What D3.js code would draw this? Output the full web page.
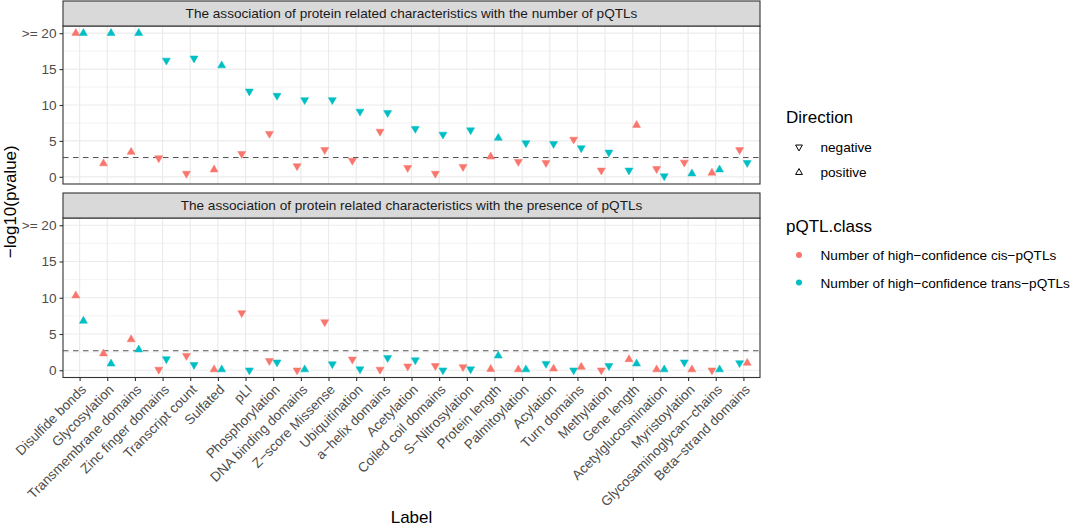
<!DOCTYPE html>
<html>
<head>
<meta charset="utf-8">
<script src="https://cdn.jsdelivr.net/npm/d3@7"></script>
<style>
  body { margin: 0; background: #fff; }
  text { font-family: "Liberation Sans", Arial, Helvetica, sans-serif; }
</style>
</head>
<body>
<svg id="chart" width="1080" height="528"></svg>
<script>
// categories on the x axis (R draws the hyphens as minus signs)
var labels = ["Disulfide bonds", "Glycosylation", "Transmembrane domains", "Zinc finger domains",
  "Transcript count", "Sulfated", "pLI", "Phosphorylation", "DNA binding domains", "Z−score Missense",
  "Ubiquitination", "a−helix domains", "Acetylation", "Coiled coil domains", "S−Nitrosylation",
  "Protein length", "Palmitoylation", "Acylation", "Turn domains", "Methylation", "Gene length",
  "Acetylglucosmination", "Myristoylation", "Glycosaminoglycan−chains", "Beta−strand domains"];

var N = "negative", P = "positive";

// panel 1: number of pQTLs
var cisNumber = [20, 1.85, 3.45, 2.6, 0.45, 1.0, 3.2, 6.0, 1.5, 3.75, 2.25, 6.3, 1.25, 0.45, 1.4,
  2.8, 2.1, 1.95, 5.2, 0.9, 7.2, 1.1, 2.0, 0.55, 3.75];
var cisNumberDir = [P, P, P, N, N, P, N, N, N, N, N, N, N, N, N, P, N, N, N, N, P, N, N, P, N];
var transNumber = [20, 20, 20, 16.2, 16.5, 15.5, 11.9, 11.3, 10.7, 10.7, 9.1, 8.9, 6.7, 5.9, 6.5,
  5.4, 4.7, 4.6, 4.0, 3.4, 0.9, 0.1, 0.45, 1.0, 1.95];
var transNumberDir = [P, P, P, N, N, P, N, N, N, N, N, N, N, N, N, P, N, N, N, N, N, N, P, P, N];

// panel 2: presence of pQTLs
var cisPresence = [10.3, 2.3, 4.25, 0.1, 2.0, 0.1, 7.9, 1.3, 0.0, 6.65, 1.5, 0.1, 0.55, 0.6, 0.45,
  0.15, 0.1, 0.2, 0.45, 0.0, 1.5, 0.1, 0.1, 0.0, 1.0];
var cisPresenceDir = [P, P, P, N, N, P, N, N, N, N, N, N, N, N, N, P, P, P, P, N, P, P, P, N, P];
var transPresence = [6.8, 0.9, 2.85, 1.55, 0.75, 0.1, 0.0, 1.1, 0.1, 0.85, 0.15, 1.7, 1.4, 0.0, 0.15,
  2.0, 0.1, 0.9, 0.0, 0.6, 0.9, 0.1, 1.1, 0.1, 1.0];
var transPresenceDir = [P, P, P, N, N, P, N, N, P, N, N, N, N, N, N, P, P, N, N, N, P, P, N, P, N];

var panelTitles = ["The association of protein related characteristics with the number of pQTLs",
  "The association of protein related characteristics with the presence of pQTLs"];
var classes = ["Number of high−confidence cis−pQTLs", "Number of high−confidence trans−pQTLs"];
var directions = [N, P];
var yTicks = [0, 5, 10, 15, 20];
var yTickLabels = ["0", "5", "10", "15", ">= 20"];
var yMinor = [2.5, 7.5, 12.5, 17.5];
var threshold = 2.7;

var COLORS = {};
COLORS[classes[0]] = "#F8766D";
COLORS[classes[1]] = "#00BFC4";

var SMALL = "13.6px", BIG = "17px";
var LEFT = 63, RIGHT = 760;
var STRIPH = 25;
var PANELS = [{top: 1, bottom: 184}, {top: 193, bottom: 377.5}];

var svg = d3.select("#chart");

var x = d3.scalePoint().domain(labels).range([LEFT, RIGHT]).padding(0.6);
var DODGE = 3.8;

function buildRows(cis, cisDir, trans, transDir) {
  var rows = [];
  labels.forEach(function(l, i) {
    var pair = [
      {label: l, value: cis[i], dir: cisDir[i], cls: classes[0], ci: 0},
      {label: l, value: trans[i], dir: transDir[i], cls: classes[1], ci: 1}
    ];
    // dodge order follows the group id: direction first, then class
    pair.sort(function(a, b) {
      var da = directions.indexOf(a.dir), db = directions.indexOf(b.dir);
      return da != db ? da - db : a.ci - b.ci;
    });
    pair[0].off = -DODGE;
    pair[1].off = DODGE;
    rows.push(pair[0], pair[1]);
  });
  return rows;
}

var panelData = [
  buildRows(cisNumber, cisNumberDir, transNumber, transNumberDir),
  buildRows(cisPresence, cisPresenceDir, transPresence, transPresenceDir)
];

// triangle path centred on its centroid
function tri(dir, half) {
  var r = half / 0.866, b = r / 2;
  if (dir == P) return "M0," + (-r) + "L" + half + "," + b + "L" + (-half) + "," + b + "Z";
  return "M0," + r + "L" + half + "," + (-b) + "L" + (-half) + "," + (-b) + "Z";
}

PANELS.forEach(function(p, k) {
  var ptop = p.top + STRIPH;
  var y = d3.scaleLinear().domain([-1, 21]).range([p.bottom, ptop]);
  var g = svg.append("g");

  g.append("rect")
    .attr("x", LEFT).attr("y", ptop).attr("width", RIGHT - LEFT).attr("height", p.bottom - ptop)
    .attr("fill", "#fff");

  // grid
  g.selectAll(".minor").data(yMinor).enter().append("line")
    .attr("x1", LEFT).attr("x2", RIGHT)
    .attr("y1", function(d) { return y(d); }).attr("y2", function(d) { return y(d); })
    .style("stroke", "#EBEBEB").style("stroke-width", 0.6);
  g.selectAll(".major").data(yTicks).enter().append("line")
    .attr("x1", LEFT).attr("x2", RIGHT)
    .attr("y1", function(d) { return y(d); }).attr("y2", function(d) { return y(d); })
    .style("stroke", "#EBEBEB").style("stroke-width", 1.2);
  g.selectAll(".xgrid").data(labels).enter().append("line")
    .attr("x1", function(d) { return x(d); }).attr("x2", function(d) { return x(d); })
    .attr("y1", ptop).attr("y2", p.bottom)
    .style("stroke", "#EBEBEB").style("stroke-width", 1.2);

  // significance threshold
  g.append("line")
    .attr("x1", LEFT).attr("x2", RIGHT)
    .attr("y1", y(threshold)).attr("y2", y(threshold))
    .style("stroke", "#555").style("stroke-width", 1.1)
    .style("stroke-dasharray", "5.5,4.5");

  // points
  g.selectAll(".pt").data(panelData[k]).enter().append("path")
    .attr("d", function(d) { return tri(d.dir, 4); })
    .attr("transform", function(d) { return "translate(" + (x(d.label) + d.off) + "," + y(d.value) + ")"; })
    .attr("fill", function(d) { return COLORS[d.cls]; })
    .attr("stroke", function(d) { return COLORS[d.cls]; })
    .attr("stroke-width", 0.5);

  // border
  g.append("rect")
    .attr("x", LEFT).attr("y", ptop).attr("width", RIGHT - LEFT).attr("height", p.bottom - ptop)
    .attr("fill", "none").style("stroke", "#333").style("stroke-width", 1.1);

  // strip
  g.append("rect")
    .attr("x", LEFT).attr("y", p.top).attr("width", RIGHT - LEFT).attr("height", STRIPH)
    .attr("fill", "#D9D9D9").style("stroke", "#333").style("stroke-width", 1.1);
  g.append("text")
    .attr("x", (LEFT + RIGHT) / 2).attr("y", p.top + STRIPH / 2 + 4.8)
    .attr("text-anchor", "middle")
    .style("font-size", SMALL).style("fill", "#1A1A1A")
    .text(panelTitles[k]);

  // y axis
  var axis = d3.axisLeft(y).tickValues(yTicks)
    .tickFormat(function(d, i) { return yTickLabels[i]; })
    .tickSize(3.5).tickPadding(3);
  var ay = g.append("g").attr("transform", "translate(" + LEFT + ",0)").call(axis);
  ay.select(".domain").remove();
  ay.selectAll("line").style("stroke", "#333").style("stroke-width", 1.1);
  ay.selectAll("text").style("font-size", SMALL).style("fill", "#4D4D4D")
    .style("font-family", "Liberation Sans, Arial, sans-serif");
});

// x axis on the bottom panel
var bottomY = PANELS[1].bottom;
var ax = d3.axisBottom(x).tickSize(3.5).tickPadding(3);
var axg = svg.append("g").attr("transform", "translate(0," + bottomY + ")").call(ax);
axg.select(".domain").remove();
axg.selectAll("line").style("stroke", "#333").style("stroke-width", 1.1);
axg.selectAll("text")
  .style("font-size", SMALL).style("fill", "#4D4D4D")
  .style("font-family", "Liberation Sans, Arial, sans-serif")
  .attr("text-anchor", "end")
  .attr("dy", "0.72em").attr("y", 0)
  .attr("transform", "translate(0,6) rotate(-45)");

// axis titles
svg.append("text")
  .attr("x", (LEFT + RIGHT) / 2).attr("y", 523)
  .attr("text-anchor", "middle").style("font-size", BIG).style("fill", "#000")
  .text("Label");
svg.append("text")
  .attr("transform", "translate(15.5," + ((PANELS[0].top + STRIPH + PANELS[1].bottom) / 2) + ") rotate(-90)")
  .attr("text-anchor", "middle").style("font-size", BIG).style("fill", "#000")
  .text("−log10(pvalue)");

// legends
var LX = 786;
var lg = svg.append("g");
lg.append("text").attr("x", LX).attr("y", 122.5).style("font-size", BIG).text("Direction");
lg.selectAll(".dk").data(directions).enter().append("path")
  .attr("d", function(d) { return tri(d, 3.4); })
  .attr("transform", function(d, i) { return "translate(799," + (147 + i * 25.5) + ")"; })
  .attr("fill", "none").attr("stroke", "#000").attr("stroke-width", 1);
lg.selectAll(".dl").data(directions).enter().append("text")
  .attr("x", 820.5).attr("y", function(d, i) { return 151.5 + i * 25.5; })
  .style("font-size", SMALL).style("fill", "#000")
  .text(function(d) { return d; });

lg.append("text").attr("x", LX).attr("y", 232).style("font-size", BIG).text("pQTL.class");
lg.selectAll(".ck").data(classes).enter().append("circle")
  .attr("cx", 799).attr("cy", function(d, i) { return 255 + i * 27.5; })
  .attr("r", 3).attr("fill", function(d) { return COLORS[d]; });
lg.selectAll(".cl").data(classes).enter().append("text")
  .attr("x", 820.5).attr("y", function(d, i) { return 260 + i * 27.5; })
  .style("font-size", SMALL).style("fill", "#000")
  .text(function(d) { return d; });
</script>
</body>
</html>
